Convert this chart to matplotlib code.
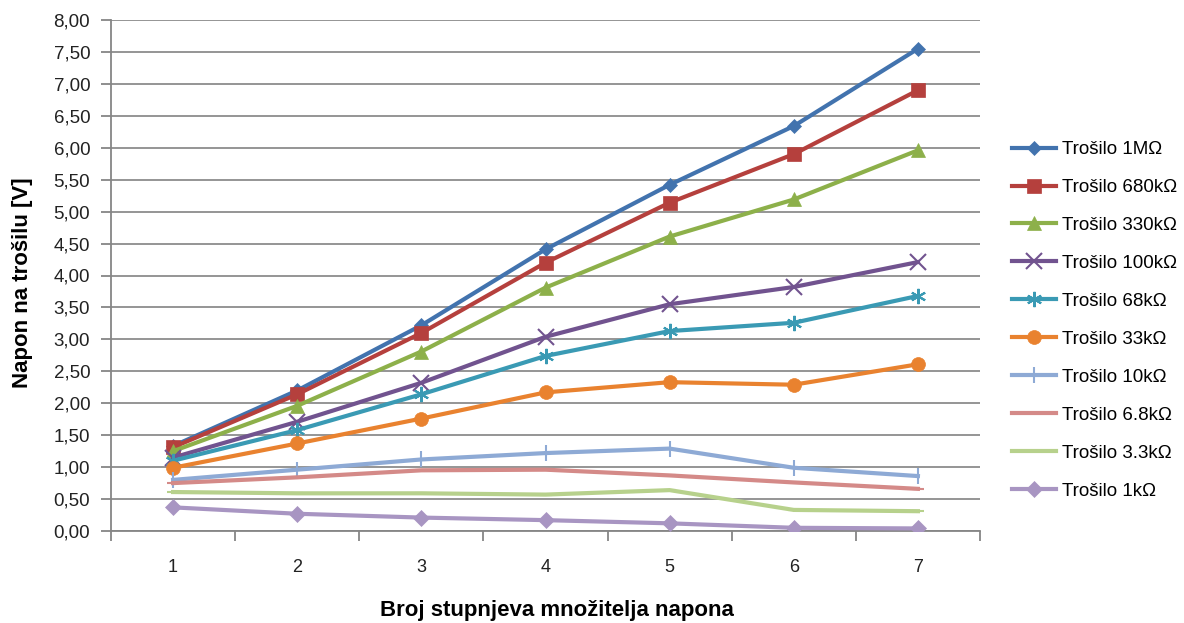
import matplotlib
matplotlib.use("Agg")
import matplotlib.pyplot as plt
from matplotlib.ticker import FuncFormatter, FixedLocator

plt.rcParams['font.family'] = ['Liberation Sans', 'DejaVu Sans']

stages = [1, 2, 3, 4, 5, 6, 7]
labels = ["Trošilo 1MΩ", "Trošilo 680kΩ", "Trošilo 330kΩ", "Trošilo 100kΩ",
          "Trošilo 68kΩ", "Trošilo 33kΩ", "Trošilo 10kΩ", "Trošilo 6.8kΩ",
          "Trošilo 3.3kΩ", "Trošilo 1kΩ"]

v_1M   = [1.33, 2.20, 3.22, 4.41, 5.42, 6.34, 7.55]
v_680k = [1.31, 2.14, 3.10, 4.20, 5.14, 5.90, 6.90]
v_330k = [1.25, 1.96, 2.81, 3.81, 4.61, 5.19, 5.96]
v_100k = [1.15, 1.71, 2.32, 3.04, 3.55, 3.82, 4.21]
v_68k  = [1.10, 1.58, 2.14, 2.74, 3.13, 3.26, 3.68]
v_33k  = [0.99, 1.37, 1.76, 2.17, 2.33, 2.29, 2.61]
v_10k  = [0.80, 0.96, 1.12, 1.22, 1.29, 0.99, 0.86]
v_6k8  = [0.75, 0.84, 0.95, 0.96, 0.87, 0.76, 0.66]
v_3k3  = [0.61, 0.59, 0.59, 0.57, 0.64, 0.33, 0.31]
v_1k   = [0.37, 0.27, 0.21, 0.17, 0.12, 0.05, 0.04]

series = [v_1M, v_680k, v_330k, v_100k, v_68k, v_33k, v_10k, v_6k8, v_3k3, v_1k]
colors = ['#4273AE', '#B5403D', '#8DB04A', '#71538F', '#3A9AB4', '#E9822F',
          '#8EAAD5', '#D48A88', '#B7D18C', '#A895C2']
markers = ['D', 's', '^', 'x', (6, 2, 0), 'o', '|', '_', '_', 'D']
msizes = [7, 10, 10, 11, 11, 10, 12, 8, 8, 8]

fig = plt.figure(figsize=(11.84, 6.23), dpi=100)
ax = fig.add_axes([111/1184, 1-531/623, (980-111)/1184, (531-20)/623])

for vals, lab, c, m, ms in zip(series, labels, colors, markers, msizes):
    ax.plot(stages, vals, color=c, lw=3, marker=m, markersize=ms,
            markeredgewidth=1.5 if m in ('x', '|', '_') or isinstance(m, tuple) else 0.5,
            markeredgecolor=c, markerfacecolor=c, label=lab, zorder=3)

ax.set_xlim(0.5, 7.5)
ax.set_ylim(0, 8)
ax.set_yticks([i * 0.5 for i in range(17)])
ax.yaxis.set_major_formatter(FuncFormatter(lambda v, p: f"{v:.2f}".replace('.', ',')))
ax.set_xticks(stages)
ax.xaxis.set_minor_locator(FixedLocator([0.5 + i for i in range(8)]))
ax.tick_params(axis='x', which='major', length=0, pad=20, labelsize=13, labelcolor='#222222')
ax.tick_params(axis='x', which='minor', length=7, color='#868686', width=1.3)
ax.tick_params(axis='y', length=7, color='#868686', width=1.3, labelsize=13.5, pad=8,
               labelcolor='#222222')

ax.grid(axis='y', color='#8c8c8c', lw=1.3, zorder=0)
ax.set_axisbelow(True)
for s in ['top', 'right']:
    ax.spines[s].set_visible(False)
for s in ['left', 'bottom']:
    ax.spines[s].set_color('#868686')
    ax.spines[s].set_linewidth(1.3)

ax.set_ylabel("Napon na trošilu [V]", fontsize=16, fontweight='bold')
ax.yaxis.set_label_coords((33 - 111) / 869, (531 - 283) / 511)
ax.set_xlabel("Broj stupnjeva množitelja napona", fontsize=16, fontweight='bold')
ax.xaxis.set_label_coords((557 - 111) / 869, (531 - 600) / 511)

leg = ax.legend(loc='upper left', bbox_to_anchor=(1012/1184, 1-141/623),
                bbox_transform=fig.transFigure, frameon=False, fontsize=13.5,
                labelspacing=1.11, handlelength=2.35, handletextpad=0.3, borderpad=0,
                borderaxespad=0)

fig.savefig("out.png", dpi=100)
